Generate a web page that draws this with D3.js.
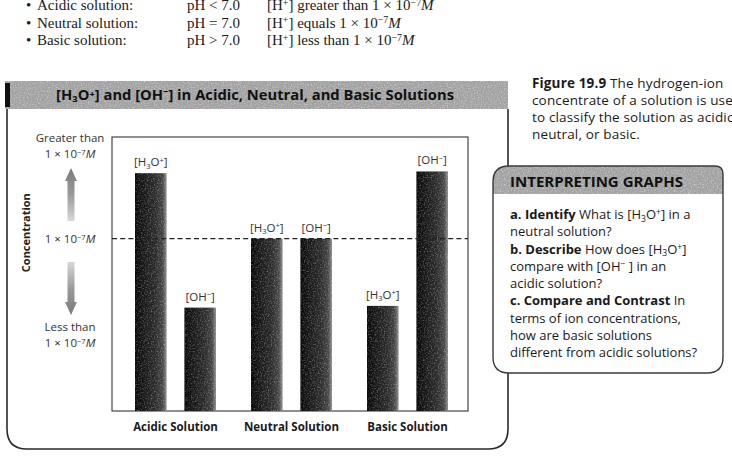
<!DOCTYPE html>
<html><head><meta charset="utf-8">
<script src="https://cdn.jsdelivr.net/npm/d3@7"></script>
<style>
html,body{margin:0;padding:0;background:#fff;}
svg{display:block;}
</style></head>
<body>
<svg id="c" width="732" height="456"></svg>
<script>
// ---------- data ----------
const categories = ["Acidic Solution", "Neutral Solution", "Basic Solution"];
const ions = ["H3O", "OH"];
const h3oLevel = [13.8, 10, 6.1];   // relative concentration (1e-7 M = 10)
const ohLevel  = [6.0, 10, 13.9];
const neutralLevel = 10;
const yMax = 15.9;
const chartTitle = "[H₃O⁺] and [OH⁻] in Acidic, Neutral, and Basic Solutions";
const yAxisTitle = "Concentration";
const upperLabel = ["Greater than", "1 × 10⁻⁷M"];
const midLabel = "1 × 10⁻⁷M";
const lowerLabel = ["Less than", "1 × 10⁻⁷M"];
const topRows = [
  {name: "Acidic solution:",  ph: "pH < 7.0", rel: "greater than"},
  {name: "Neutral solution:", ph: "pH = 7.0", rel: "equals"},
  {name: "Basic solution:",   ph: "pH > 7.0", rel: "less than"}
];
const captionLines = ["The hydrogen-ion", "concentrate of a solution is used", "to classify the solution as acidic,", "neutral, or basic."];
const questions = [
  [["a. Identify", "b"], ["  What is [H", ""], ["3", "sub"], ["O", ""], ["+", "sup"], ["] in a", ""]],
  [["neutral solution?", ""]],
  [["b. Describe", "b"], ["  How does [H", ""], ["3", "sub"], ["O", ""], ["+", "sup"], ["]", ""]],
  [["compare with [OH", ""], ["−", "sup"], [" ] in an", ""]],
  [["acidic solution?", ""]],
  [["c. Compare and Contrast", "b"], ["  In", ""]],
  [["terms of ion concentrations,", ""]],
  [["how are basic solutions", ""]],
  [["different from acidic solutions?", ""]]
];

const svg = d3.select("#c");
const SANS = "'Open Sans','Noto Sans',sans-serif";
const SERIF = "'Liberation Serif','DejaVu Serif',serif";

// rich text helper
function rich(textSel, parts, fs) {
  let cur = 0;
  parts.forEach(([t, s]) => {
    let target = 0, size = null;
    if (s === "sub") { target = fs * 0.22; size = fs * 0.66; }
    if (s === "sup") { target = -fs * 0.3; size = fs * 0.66; }
    const ts = textSel.append("tspan").text(t).attr("dy", target - cur);
    cur = target;
    if (size) ts.attr("font-size", size);
    if (s === "b") ts.attr("font-weight", "bold");
    if (s === "i") ts.attr("font-style", "italic");
  });
}
function sciParts(prefix) { return [[prefix + "1 × 10", ""], ["−7", "sup"], ["M", "i"]]; }

// ---------- defs ----------
const defs = svg.append("defs");
const g1 = defs.append("linearGradient").attr("id", "barGrad").attr("x1", 0).attr("x2", 1).attr("y1", 0).attr("y2", 0);
[[0, "#080808"], [0.3, "#1a1a1a"], [0.65, "#2c2c2c"], [0.88, "#474747"], [1, "#909090"]]
  .forEach(([o, c]) => g1.append("stop").attr("offset", o).attr("stop-color", c));
const gUp = defs.append("linearGradient").attr("id", "upGrad").attr("x1", 0).attr("x2", 0).attr("y1", 0).attr("y2", 1);
[[0, "#7a7a7a"], [0.5, "#9a9a9a"], [1, "#d8d8d8"]].forEach(([o, c]) => gUp.append("stop").attr("offset", o).attr("stop-color", c));
const gDn = defs.append("linearGradient").attr("id", "dnGrad").attr("x1", 0).attr("x2", 0).attr("y1", 0).attr("y2", 1);
[[0, "#d8d8d8"], [0.5, "#9a9a9a"], [1, "#7a7a7a"]].forEach(([o, c]) => gDn.append("stop").attr("offset", o).attr("stop-color", c));
const f = defs.append("filter").attr("id", "grain").attr("x", 0).attr("y", 0).attr("width", 1).attr("height", 1);
f.append("feTurbulence").attr("type", "fractalNoise").attr("baseFrequency", 0.7).attr("numOctaves", 2).attr("seed", 3).attr("result", "n");
f.append("feColorMatrix").attr("in", "n").attr("type", "matrix")
  .attr("values", "0 0 0 0 1  0 0 0 0 1  0 0 0 0 1  2.6 0 0 0 -1.2").attr("result", "m");
f.append("feComposite").attr("in", "m").attr("in2", "SourceGraphic").attr("operator", "in");

// ---------- top text ----------
const topG = svg.append("g").attr("font-family", SERIF).attr("font-size", 15).attr("fill", "#1a1a1a");
topRows.forEach((r, i) => {
  const y = 10 + i * 17.5;
  topG.append("text").attr("x", 26).attr("y", y).text("•");
  topG.append("text").attr("x", 37).attr("y", y).text(r.name);
  topG.append("text").attr("x", 187).attr("y", y).text(r.ph);
  const t = topG.append("text").attr("x", 267).attr("y", y);
  rich(t, [["[H", ""], ["+", "sup"], ["] " + r.rel + " 1 × 10", ""], ["−7", "sup"], ["M", "i"]], 15);
});

// ---------- outer box ----------
const bx0 = 7, bx1 = 508, byTop = 109, byBot = 449, br = 20;
svg.append("path")
  .attr("d", `M${bx0},${byTop} L${bx0},${byBot - br} Q${bx0},${byBot} ${bx0 + br},${byBot} L${bx1 - br},${byBot} Q${bx1},${byBot} ${bx1},${byBot - br} L${bx1},${byTop}`)
  .attr("fill", "none").attr("stroke", "#2a2a2a").attr("stroke-width", 1.6);
svg.append("rect").attr("x", 5).attr("y", 81).attr("width", 503).attr("height", 28).attr("fill", "#a2a2a2");
svg.append("rect").attr("x", 5).attr("y", 81).attr("width", 503).attr("height", 28).attr("fill", "#e6e6e6").attr("opacity", 0.4).attr("filter", "url(#grain)");
svg.append("rect").attr("x", 5).attr("y", 83).attr("width", 5).attr("height", 24).attr("fill", "#111");
svg.append("text").attr("x", 255).attr("y", 100).attr("text-anchor", "middle")
  .attr("font-family", SANS).attr("font-weight", "bold").attr("font-size", 13.5).attr("fill", "#111")
  .attr("textLength", 398).attr("lengthAdjust", "spacingAndGlyphs").text(chartTitle);

// ---------- plot ----------
const plot = {left: 112, right: 468, top: 137, bottom: 411};
const x = d3.scaleBand().domain(categories).range([117.5, 465.5]).padding(0);
const xi = d3.scaleBand().domain(ions).range([17.5, 98.5]).paddingInner(0.36).paddingOuter(0);
const y = d3.scaleLinear().domain([0, yMax]).range([plot.bottom, plot.top]);

svg.append("rect").attr("x", plot.left).attr("y", plot.top).attr("width", plot.right - plot.left)
  .attr("height", plot.bottom - plot.top).attr("fill", "#fff").attr("stroke", "#333").attr("stroke-width", 1.1);

const barData = [];
categories.forEach((c, i) => {
  barData.push({cat: c, ion: "H3O", v: h3oLevel[i]});
  barData.push({cat: c, ion: "OH", v: ohLevel[i]});
});
const bars = svg.append("g");
bars.selectAll("rect.bar").data(barData).join("rect").attr("class", "bar")
  .attr("x", d => x(d.cat) + xi(d.ion)).attr("width", xi.bandwidth())
  .attr("y", d => y(d.v)).attr("height", d => y(0) - y(d.v)).attr("fill", "url(#barGrad)");
bars.selectAll("rect.grain").data(barData).join("rect").attr("class", "grain")
  .attr("x", d => x(d.cat) + xi(d.ion)).attr("width", xi.bandwidth())
  .attr("y", d => y(d.v)).attr("height", d => y(0) - y(d.v)).attr("fill", "#fff").attr("opacity", 0.3)
  .attr("filter", "url(#grain)");

// bar labels
barData.forEach(d => {
  const t = svg.append("text").attr("x", x(d.cat) + xi(d.ion) + xi.bandwidth() / 2).attr("y", y(d.v) - 7)
    .attr("text-anchor", "middle").attr("font-family", SANS).attr("font-size", 11.5).attr("fill", "#333");
  if (d.ion === "H3O") rich(t, [["[H", ""], ["3", "sub"], ["O", ""], ["+", "sup"], ["]", ""]], 11.5);
  else rich(t, [["[OH", ""], ["−", "sup"], ["]", ""]], 11.5);
});

// neutral reference dashed line
svg.append("line").attr("x1", plot.left).attr("x2", plot.right).attr("y1", y(neutralLevel)).attr("y2", y(neutralLevel))
  .attr("stroke", "#222").attr("stroke-width", 1.3).attr("stroke-dasharray", "5,3.2");

// category labels
svg.append("g").selectAll("text").data(categories).join("text")
  .attr("x", d => x(d) + x.bandwidth() / 2).attr("y", 431).attr("text-anchor", "middle")
  .attr("font-family", SANS).attr("font-weight", "bold").attr("font-size", 11.5).attr("fill", "#1a1a1a")
  .text(d => d);

// y axis annotations
const yl = svg.append("g").attr("font-family", SANS).attr("font-size", 11.5).attr("fill", "#333").attr("text-anchor", "middle");
yl.append("text").attr("x", 70).attr("y", 142).text(upperLabel[0]);
rich(yl.append("text").attr("x", 70).attr("y", 158), sciParts(""), 11.5);
rich(yl.append("text").attr("x", 70).attr("y", y(neutralLevel) + 4.5), sciParts(""), 11.5);
yl.append("text").attr("x", 70).attr("y", 331).text(lowerLabel[0]);
rich(yl.append("text").attr("x", 70).attr("y", 347), sciParts(""), 11.5);

svg.append("text").attr("transform", `translate(30,${y(neutralLevel) - 6}) rotate(-90)`)
  .attr("text-anchor", "middle").attr("font-family", SANS).attr("font-weight", "bold")
  .attr("font-size", 11).attr("fill", "#222").text(yAxisTitle);

// arrows
const ax = 71;
svg.append("path").attr("d", `M${ax},168 L${ax + 6},181 L${ax + 3.5},181 L${ax + 3.5},221 L${ax - 3.5},221 L${ax - 3.5},181 L${ax - 6},181 Z`)
  .attr("fill", "url(#upGrad)");
svg.append("path").attr("d", `M${ax},315 L${ax + 6},302 L${ax + 3.5},302 L${ax + 3.5},262 L${ax - 3.5},262 L${ax - 3.5},302 L${ax - 6},302 Z`)
  .attr("fill", "url(#dnGrad)");

// ---------- caption ----------
const cap = svg.append("g").attr("font-family", SANS).attr("font-size", 13.5).attr("letter-spacing", 0.15).attr("fill", "#1a1a1a");
const c0 = cap.append("text").attr("x", 532).attr("y", 88);
c0.append("tspan").attr("font-weight", "bold").text("Figure 19.9");
c0.append("tspan").text("  " + captionLines[0]);
captionLines.slice(1).forEach((l, i) => cap.append("text").attr("x", 532).attr("y", 105 + i * 17).text(l));

// ---------- interpreting graphs box ----------
const ix0 = 493, ix1 = 723, iyTop = 166, iyHead = 194, iyBot = 373, ir = 16;
const boxPath = `M${ix0},${iyTop + ir} Q${ix0},${iyTop} ${ix0 + ir},${iyTop} L${ix1 - 8},${iyTop} Q${ix1},${iyTop} ${ix1},${iyTop + 8} L${ix1},${iyBot - ir} Q${ix1},${iyBot} ${ix1 - ir},${iyBot} L${ix0 + ir},${iyBot} Q${ix0},${iyBot} ${ix0},${iyBot - ir} Z`;
svg.append("path").attr("d", boxPath).attr("fill", "#fff");
const headPath = `M${ix0},${iyHead} L${ix0},${iyTop + ir} Q${ix0},${iyTop} ${ix0 + ir},${iyTop} L${ix1 - 8},${iyTop} Q${ix1},${iyTop} ${ix1},${iyTop + 8} L${ix1},${iyHead} Z`;
svg.append("path").attr("d", headPath).attr("fill", "#a2a2a2");
svg.append("path").attr("d", headPath).attr("fill", "#e6e6e6").attr("opacity", 0.4).attr("filter", "url(#grain)");
svg.append("path").attr("d", boxPath).attr("fill", "none").attr("stroke", "#3a3a3a").attr("stroke-width", 1.4);
svg.append("text").attr("x", 510).attr("y", 187).attr("font-family", SANS).attr("font-weight", "bold")
  .attr("font-size", 14.5).attr("fill", "#111").attr("textLength", 173).attr("lengthAdjust", "spacingAndGlyphs")
  .text("INTERPRETING GRAPHS");
const qg = svg.append("g").attr("font-family", SANS).attr("font-size", 13).attr("fill", "#1a1a1a");
questions.forEach((parts, i) => rich(qg.append("text").attr("x", 510).attr("y", 219 + i * 17.25), parts, 13));
</script>
</body></html>
